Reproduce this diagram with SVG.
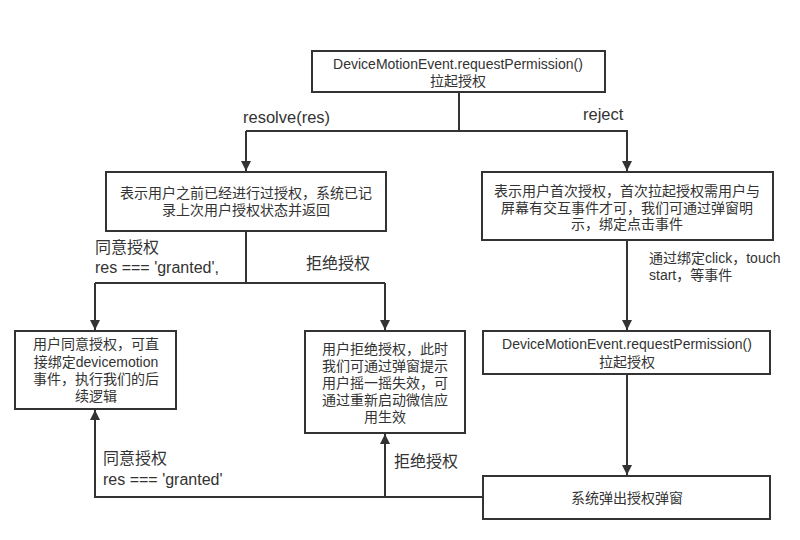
<svg xmlns="http://www.w3.org/2000/svg" width="800" height="540" viewBox="0 0 800 540">
<style>
.box{fill:#fff;stroke:#333;stroke-width:2}
.t{font-family:"Liberation Sans","Noto Sans CJK SC",sans-serif;font-size:14px;fill:#333;text-anchor:middle}
.l{font-family:"Liberation Sans","Noto Sans CJK SC",sans-serif;font-size:16px;fill:#333}
.c{fill:none;stroke:#333;stroke-width:2}
</style>
<defs>
<marker id="ah" markerWidth="10" markerHeight="10" viewBox="0 0 10 10" refX="10" refY="5" orient="auto" markerUnits="userSpaceOnUse">
<path d="M0,0 L10,5 L0,10 Z" fill="#333"/>
</marker>
</defs>
<rect width="800" height="540" fill="#fff"/>
<g id="connectors">
<path class="c" d="M459,92 V131"/>
<path class="c" d="M246,131 H628"/>
<path class="c" d="M246,131 V171" marker-end="url(#ah)"/>
<path class="c" d="M627,131 V171" marker-end="url(#ah)"/>
<path class="c" d="M246,231 V283"/>
<path class="c" d="M95,283 H385"/>
<path class="c" d="M95,283 V330" marker-end="url(#ah)"/>
<path class="c" d="M385,283 V330" marker-end="url(#ah)"/>
<path class="c" d="M627,240 V330" marker-end="url(#ah)"/>
<path class="c" d="M627,374 V475" marker-end="url(#ah)"/>
<path class="c" d="M483,497 H95 V410" marker-end="url(#ah)"/>
<path class="c" d="M385,497 V434" marker-end="url(#ah)"/>
<text class="l" x="243" y="123" style="font-size:16.5px">resolve(res)</text>
<text class="l" x="583" y="120" style="font-size:16.5px">reject</text>
<text class="l" x="95" y="253">同意授权</text>
<text class="l" x="95" y="273">res === 'granted',</text>
<text class="l" x="306" y="269">拒绝授权</text>
<text class="l" x="649" y="263" style="font-size:14px">通过绑定click，touch</text>
<text class="l" x="649" y="280" style="font-size:14px">start，等事件</text>
<text class="l" x="103" y="464">同意授权</text>
<text class="l" x="103" y="485">res === 'granted'</text>
<text class="l" x="394" y="467">拒绝授权</text>
</g>
<g id="n1">
<rect class="box" x="312" y="51" width="293" height="41"/>
<text class="t" x="458" y="69">DeviceMotionEvent.requestPermission()</text>
<text class="t" x="458" y="86">拉起授权</text>
</g>
<g id="n2">
<rect class="box" x="106" y="172" width="280" height="59"/>
<text class="t" x="246" y="198">表示用户之前已经进行过授权，系统已记</text>
<text class="t" x="246" y="215">录上次用户授权状态并返回</text>
</g>
<g id="n3">
<rect class="box" x="482" y="172" width="291" height="68"/>
<text class="t" x="627" y="196">表示用户首次授权，首次拉起授权需用户与</text>
<text class="t" x="627" y="213">屏幕有交互事件才可，我们可通过弹窗明</text>
<text class="t" x="627" y="229">示，绑定点击事件</text>
</g>
<g id="n4">
<rect class="box" x="15" y="331" width="161" height="78"/>
<text class="t" x="96" y="349">用户同意授权，可直</text>
<text class="t" x="96" y="367">接绑定devicemotion</text>
<text class="t" x="96" y="384">事件，执行我们的后</text>
<text class="t" x="96" y="401">续逻辑</text>
</g>
<g id="n5">
<rect class="box" x="305" y="331" width="160" height="102"/>
<text class="t" x="385" y="354">用户拒绝授权，此时</text>
<text class="t" x="385" y="371">我们可通过弹窗提示</text>
<text class="t" x="385" y="388">用户摇一摇失效，可</text>
<text class="t" x="385" y="405">通过重新启动微信应</text>
<text class="t" x="385" y="422">用生效</text>
</g>
<g id="n6">
<rect class="box" x="483" y="331" width="287" height="43"/>
<text class="t" x="627" y="349">DeviceMotionEvent.requestPermission()</text>
<text class="t" x="627" y="367">拉起授权</text>
</g>
<g id="n7">
<rect class="box" x="483" y="476" width="287" height="43"/>
<text class="t" x="627" y="503">系统弹出授权弹窗</text>
</g>
</svg>
